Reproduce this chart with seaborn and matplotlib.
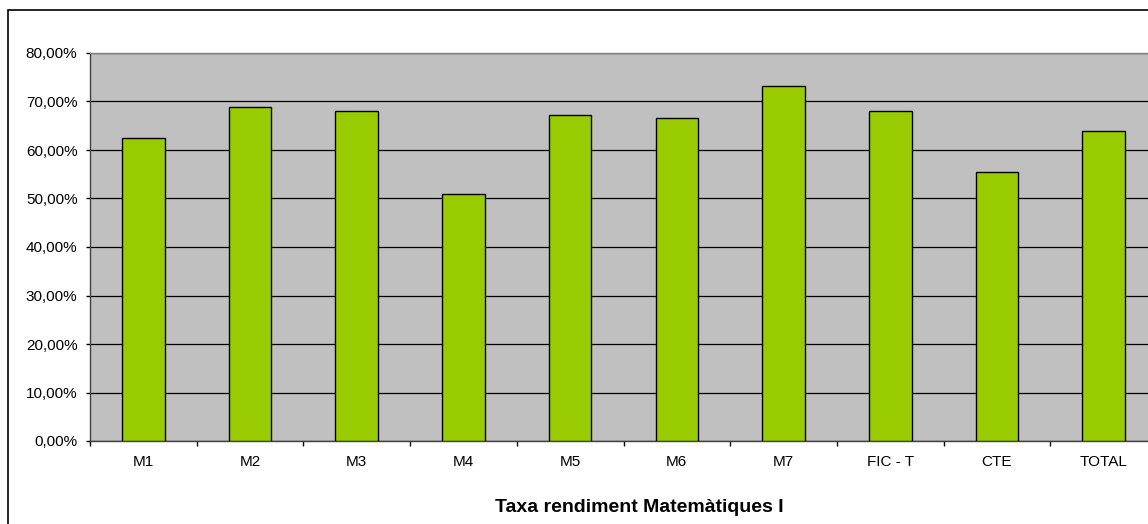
import numpy as np
import pandas as pd
import matplotlib
matplotlib.use("Agg")
import matplotlib.pyplot as plt
from matplotlib.patches import Rectangle
from matplotlib.ticker import FuncFormatter, FixedLocator
import seaborn as sns

categories = ["M1", "M2", "M3", "M4", "M5", "M6", "M7", "FIC - T", "CTE", "TOTAL"]
values = [62.4, 68.8, 68.0, 51.0, 67.2, 66.7, 73.2, 68.0, 55.4, 63.9]
y_ticks = [0, 10, 20, 30, 40, 50, 60, 70, 80]
x_title = "Taxa rendiment Matemàtiques I"

sns.set_theme(style="white")
plt.rcParams['font.family'] = ['Liberation Sans', 'DejaVu Sans']

W, H = 1148, 524
fig = plt.figure(figsize=(W / 100, H / 100), dpi=100)
ax = fig.add_axes([90 / W, 1 - 441 / H, 1067 / W, (441 - 53) / H])

df = pd.DataFrame({"cat": categories, "val": values})
sns.barplot(data=df, x="cat", y="val", color="#99CC00", saturation=1,
            width=0.4, edgecolor="black", linewidth=1.0, ax=ax, zorder=3)

ax.set_facecolor("#C0C0C0")
ax.set_xlim(-0.5, len(categories) - 0.5)
ax.set_ylim(0, 80)
ax.set_yticks(y_ticks)
ax.yaxis.set_major_formatter(FuncFormatter(lambda v, p: f"{v:.2f}".replace(".", ",") + "%"))
ax.grid(axis="y", color="black", linewidth=0.9, zorder=1)
ax.set_axisbelow(True)
ax.set_xlabel("")
ax.set_ylabel("")

ax.xaxis.set_minor_locator(FixedLocator(np.arange(-0.5, len(categories), 1.0)))
ax.tick_params(axis="x", which="major", length=0, pad=10, labelsize=11, colors="black")
ax.tick_params(axis="x", which="minor", length=3.6, width=1, direction="out",
               color="black", bottom=True)
ax.tick_params(axis="y", which="major", length=3, width=1, direction="out",
               pad=6, labelsize=11, color="black", left=True, labelcolor="black")

for s in ["left", "bottom"]:
    ax.spines[s].set_color("#404040")
    ax.spines[s].set_linewidth(1.0)
ax.spines["top"].set_color("#808080")
ax.spines["top"].set_linewidth(1.0)
ax.spines["right"].set_visible(False)

fig.text(639 / W, 1 - 512 / H, x_title, ha="center", va="baseline",
         fontsize=14, fontweight="bold", color="black")

fig.patches.append(Rectangle((7.5 / W, -0.1), 2.0, 1.1 - 10 / H,
                             transform=fig.transFigure, fill=False,
                             edgecolor="black", linewidth=1.2))

fig.savefig("out.png", dpi=100, facecolor="white")
